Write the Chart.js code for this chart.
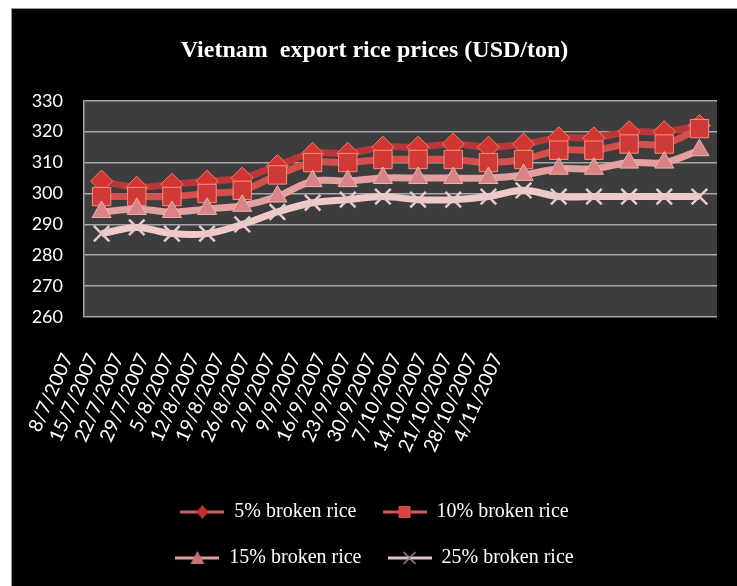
<!DOCTYPE html>
<html>
<head>
<meta charset="utf-8">
<script src="https://cdn.jsdelivr.net/npm/chart.js@4.4.1/dist/chart.umd.min.js"></script>
<style>
  html, body { margin: 0; padding: 0; background: #fff; }
  #frame {
    position: absolute; left: 11px; top: 8px;
    width: 725px; height: 577px;
    border-left: 1px solid #9a9a9a; border-top: 1px solid #9a9a9a;
    background: #000;
  }
  canvas { display: block; }
</style>
</head>
<body>
<div id="frame"><canvas id="riceChart" width="725" height="577"></canvas></div>
<script>
const dates = ['8/7/2007', '15/7/2007', '22/7/2007', '29/7/2007', '5/8/2007', '12/8/2007',
  '19/8/2007', '26/8/2007', '2/9/2007', '9/9/2007', '16/9/2007', '23/9/2007', '30/9/2007',
  '7/10/2007', '14/10/2007', '21/10/2007', '28/10/2007', '4/11/2007'];

const broken5  = [304, 302, 303, 304, 305, 309, 313, 313, 315, 315, 316, 315, 316, 318, 318, 320, 320, 322];
const broken10 = [299, 299, 299, 300, 301, 306, 310, 310, 311, 311, 311, 310, 311, 314, 314, 316, 316, 321];
const broken15 = [294, 295, 294, 295, 296, 299, 304, 304, 305, 305, 305, 305, 306, 308, 308, 310, 310, 314];
const broken25 = [287, 289, 287, 287, 290, 294, 297, 298, 299, 298, 298, 299, 301, 299, 299, 299, 299, 299];

const yTicks = { min: 260, max: 330, step: 10 };

// small line+marker pictures for the legend
function legendIcon(lineColor, markColor, shape) {
  const c = document.createElement('canvas');
  c.width = 44; c.height = 20;
  const g = c.getContext('2d');
  g.strokeStyle = lineColor; g.lineWidth = 3;
  g.beginPath(); g.moveTo(0, 10); g.lineTo(44, 10); g.stroke();
  g.fillStyle = markColor; g.strokeStyle = markColor;
  g.beginPath();
  if (shape === 'diamond') {
    g.moveTo(22, 3); g.lineTo(28, 10); g.lineTo(22, 17); g.lineTo(16, 10); g.closePath(); g.fill();
  } else if (shape === 'square') {
    g.fillRect(16, 4, 12, 12);
  } else if (shape === 'triangle') {
    g.moveTo(22, 3); g.lineTo(29, 16); g.lineTo(15, 16); g.closePath(); g.fill();
  } else {
    g.lineWidth = 1.5;
    g.moveTo(16, 4); g.lineTo(28, 16); g.moveTo(28, 4); g.lineTo(16, 16); g.stroke();
  }
  return c;
}

const icons = [
  legendIcon('#c86262', '#c0302c', 'diamond'),
  legendIcon('#d05a58', '#d84440', 'square'),
  legendIcon('#d8a0a0', '#c87272', 'triangle'),
  legendIcon('#dcc4c4', '#a08888', 'x')
];

const plotBg = {
  id: 'plotBg',
  beforeDraw(chart) {
    const { ctx, chartArea: a } = chart;
    ctx.save();
    ctx.fillStyle = '#3d3d3d';
    ctx.fillRect(a.left, a.top, a.right - a.left, a.bottom - a.top);
    ctx.restore();
  }
};

// legend is sized on the plot width but centred on the whole canvas
const centerLegend = {
  id: 'centerLegend',
  afterLayout(chart) {
    const lg = chart.legend;
    lg.left = 0; lg.right = chart.width; lg.width = chart.width;
  }
};

new Chart(document.getElementById('riceChart'), {
  type: 'line',
  data: {
    labels: dates,
    datasets: [
      { label: '5% broken rice', data: broken5, order: 4,
        borderColor: '#b8383a', borderWidth: 7,
        pointStyle: 'rectRot', pointRadius: 11,
        pointBackgroundColor: '#d2362f', pointBorderColor: '#f07a70', pointBorderWidth: 1 },
      { label: '10% broken rice', data: broken10, order: 3,
        borderColor: '#d44e4c', borderWidth: 7,
        pointStyle: 'rect', pointRadius: 13,
        pointBackgroundColor: '#cf3a36', pointBorderColor: '#ff8a80', pointBorderWidth: 1 },
      { label: '15% broken rice', data: broken15, order: 2,
        borderColor: '#e2a0a0', borderWidth: 7,
        pointStyle: 'triangle', pointRadius: 11,
        pointBackgroundColor: '#d98484', pointBorderColor: '#f0b0b0', pointBorderWidth: 1 },
      { label: '25% broken rice', data: broken25, order: 1,
        borderColor: '#eecaca', borderWidth: 7,
        pointStyle: 'crossRot', pointRadius: 11,
        pointBackgroundColor: '#e6caca', pointBorderColor: '#e6caca', pointBorderWidth: 2.5 }
    ]
  },
  options: {
    responsive: false,
    animation: false,
    elements: { line: { tension: 0.35 } },
    layout: { padding: { left: 20, right: 20, top: 0, bottom: 8 } },
    scales: {
      x: { type: 'category', offset: true, display: false },
      xl: {
        type: 'linear', position: 'bottom', bounds: 'data',
        min: 0.634, max: 25.70,
        afterBuildTicks: s => { s.ticks = dates.map((d, i) => ({ value: i })); },
        afterFit: s => { s.height = 159; s.paddingLeft = 0; s.paddingRight = 0; },
        grid: { display: false, drawTicks: false },
        border: { display: false },
        ticks: {
          autoSkip: false, minRotation: 66, maxRotation: 66, padding: 33,
          color: '#ffffff', font: { family: 'Lato', size: 19 },
          callback: v => dates[v]
        }
      },
      y: {
        min: yTicks.min, max: yTicks.max,
        afterFit: s => { s.width = 52; },
        ticks: { stepSize: yTicks.step, color: '#ffffff', padding: 21,
          font: { family: 'Lato', size: 18 } },
        grid: { color: '#a8a8a8', lineWidth: 1.5, drawTicks: false },
        border: { display: true, color: '#a8a8a8', width: 1.5 }
      }
    },
    plugins: {
      title: {
        display: true,
        text: 'Vietnam  export rice prices (USD/ton)',
        color: '#ffffff',
        font: { family: 'Liberation Serif', size: 24, weight: 'bold' },
        padding: { top: 27, bottom: 36 }
      },
      legend: {
        position: 'bottom',
        fullSize: false,
        labels: {
          usePointStyle: true, pointStyleWidth: 44, padding: 26,
          color: '#ffffff',
          font: { family: 'Liberation Serif', size: 20 },
          sort: (a, b) => a.datasetIndex - b.datasetIndex,
          generateLabels: chart => Chart.defaults.plugins.legend.labels.generateLabels(chart)
            .map(l => Object.assign(l, { pointStyle: icons[l.datasetIndex], fontColor: '#ffffff' }))
        }
      },
      tooltip: { enabled: false }
    }
  },
  plugins: [plotBg, centerLegend]
});
</script>
</body>
</html>
